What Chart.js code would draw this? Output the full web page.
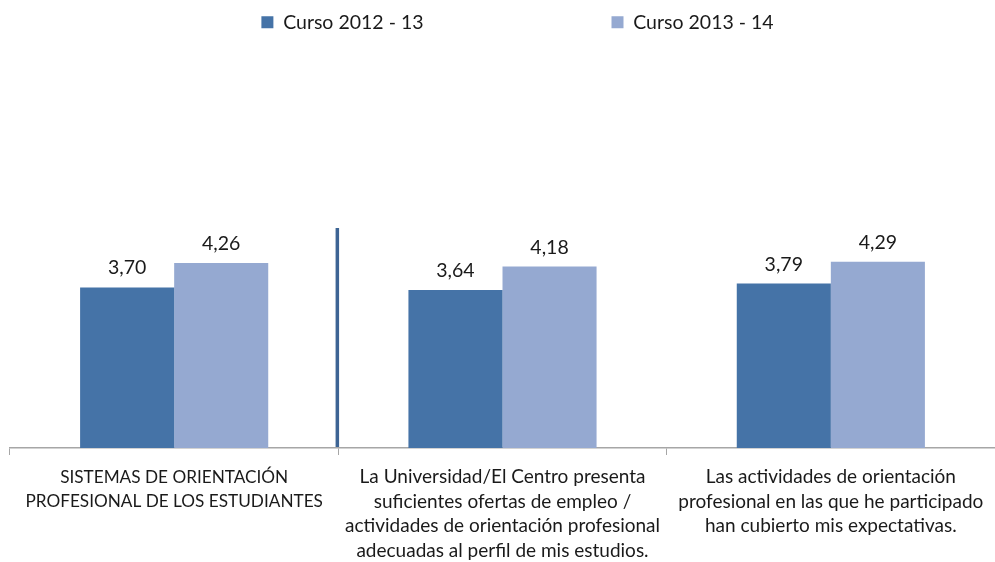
<!DOCTYPE html>
<html>
<head>
<meta charset="utf-8">
<script src="https://cdn.jsdelivr.net/npm/chart.js@4/dist/chart.umd.min.js"></script>
<style>
  html, body { margin: 0; padding: 0; background: #ffffff; }
  #wrap { width: 995px; height: 562px; }
</style>
</head>
<body>
<div id="wrap"><canvas id="c" width="995" height="562"></canvas></div>
<script>
const categories = [
  ["SISTEMAS DE ORIENTACIÓN", "PROFESIONAL DE LOS ESTUDIANTES"],
  ["La Universidad/El Centro presenta", "suficientes ofertas de empleo /", "actividades de orientación profesional", "adecuadas al perfil de mis estudios."],
  ["Las actividades de orientación", "profesional en las que he participado", "han cubierto mis expectativas."]
];
const seriesNames = ["Curso 2012 - 13", "Curso 2013 - 14"];
const curso2012 = [3.70, 3.64, 3.79];
const curso2013 = [4.26, 4.18, 4.29];

const FONT = "Lato, 'Liberation Sans', sans-serif";
const DARK = '#4573a7';
const LIGHT = '#95a9d1';

const labelPlugin = {
  id: 'valueLabels',
  afterDatasetsDraw(chart) {
    const ctx = chart.ctx;
    ctx.save();
    ctx.font = '19.5px ' + FONT;
    ctx.fillStyle = '#1a1a1a';
    ctx.textAlign = 'center';
    ctx.textBaseline = 'alphabetic';
    chart.data.datasets.forEach((ds, di) => {
      const meta = chart.getDatasetMeta(di);
      meta.data.forEach((bar, i) => {
        const txt = ds.data[i].toFixed(2).replace('.', ',');
        ctx.fillText(txt, bar.x, bar.y - 13);
      });
    });
    ctx.restore();
  }
};

const separatorPlugin = {
  id: 'separator',
  afterDatasetsDraw(chart) {
    const x = chart.scales.x;
    const y = chart.scales.y;
    const px = (x.getPixelForValue(0) + x.getPixelForValue(1)) / 2 - 1;
    const ctx = chart.ctx;
    ctx.save();
    ctx.strokeStyle = '#3d6494';
    ctx.lineWidth = 3.5;
    ctx.beginPath();
    ctx.moveTo(px, y.getPixelForValue(y.max) - 3);
    ctx.lineTo(px, y.getPixelForValue(0) - 1);
    ctx.stroke();
    ctx.restore();
  }
};

const legendShift = {
  id: 'legendShift',
  afterLayout(chart) {
    const lg = chart.legend;
    if (lg) { lg.top -= 189; lg.bottom -= 189; lg.left += 15; lg.right += 15; }
  }
};

new Chart(document.getElementById('c'), {
  type: 'bar',
  data: {
    labels: categories,
    datasets: [
      { label: seriesNames[0], data: curso2012, backgroundColor: DARK, barPercentage: 1, categoryPercentage: 0.573 },
      { label: seriesNames[1], data: curso2013, backgroundColor: LIGHT, barPercentage: 1, categoryPercentage: 0.573 }
    ]
  },
  options: {
    responsive: false,
    animation: false,
    layout: { padding: { left: 10, right: 0, top: 13.5, bottom: -11 } },
    plugins: {
      legend: {
        position: 'top',
        labels: {
          boxWidth: 12, boxHeight: 12, padding: 188,
          color: '#1a1a1a',
          font: { family: FONT, size: 19.5 }
        }
      },
      tooltip: { enabled: false }
    },
    scales: {
      x: {
        offset: true,
        grid: { display: true, offset: true, drawOnChartArea: false, drawTicks: true, tickLength: 7, color: '#a6a6a6', lineWidth: 1 },
        border: { display: true, color: '#a6a6a6', width: 1.5 },
        ticks: {
          color: '#1a1a1a', padding: 10, maxRotation: 0, autoSkip: false,
          font: (c) => ({ family: FONT, size: c.index === 0 ? 17.2 : 19, lineHeight: '24.5px' })
        }
      },
      y: {
        display: false,
        min: 0, max: 5
      }
    }
  },
  plugins: [labelPlugin, separatorPlugin, legendShift]
});
</script>
</body>
</html>
